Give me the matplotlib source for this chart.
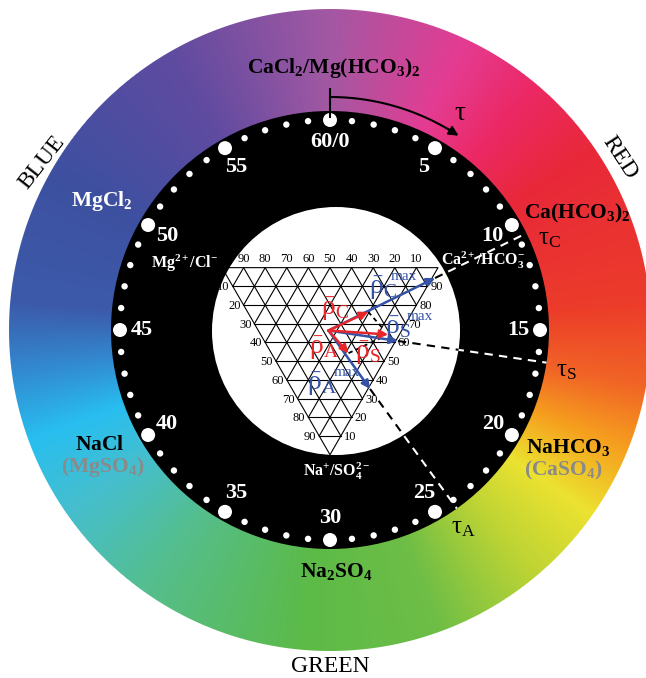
import numpy as np
import matplotlib
matplotlib.use("Agg")
import matplotlib.pyplot as plt
from matplotlib.patches import Circle

plt.rcParams['font.family'] = 'Liberation Serif'
plt.rcParams['mathtext.fontset'] = 'custom'
plt.rcParams['mathtext.rm'] = 'Liberation Serif'
plt.rcParams['mathtext.it'] = 'Liberation Serif:italic'
plt.rcParams['mathtext.bf'] = 'Liberation Serif:bold'

# ---- data ----
dial_steps = np.arange(60)                       # tau clock, 60 steps
dial_labels = ['60/0', '5', '10', '15', '20', '25', '30', '35', '40', '45', '50', '55']
tri_ticks = [10, 20, 30, 40, 50, 60, 70, 80, 90]

# end members round the wheel
compounds = [r'$\mathbf{CaCl_2/Mg(HCO_3)_2}$', r'$\mathbf{MgCl_2}$', r'$\mathbf{Ca(HCO_3)_2}$',
             r'$\mathbf{NaHCO_3}$', r'$\mathbf{(CaSO_4)}$', r'$\mathbf{NaCl}$',
             r'$\mathbf{(MgSO_4)}$', r'$\mathbf{Na_2SO_4}$']
ions = [r'$\mathbf{Mg^{2+}/Cl^{-}}$', r'$\mathbf{Ca^{2+}/HCO_3^{-}}$', r'$\mathbf{Na^{+}/SO_4^{2-}}$']
colour_names = ['BLUE', 'RED', 'GREEN']

# mean vectors: tau position (clock units) and length (fraction of triangle side)
rho_keys = ['C', 'S', 'A']
rho_max_tau = [10.63, 16.43, 24.1]
rho_max_len = [0.55, 0.325, 0.332]
rho_mean_tau = {'C': 10.8, 'A': 23.1}
rho_mean_len = {'C': 0.203, 'A': 0.14}

# hue wheel stops (deg clockwise from top -> rgb)
wheel_deg = [0, 25, 40, 55, 85, 100, 112, 125, 140, 160, 185, 215, 235, 250, 262, 275, 300, 330, 360]
wheel_rgb = np.array([
    (163, 88, 163), (228, 60, 146), (236, 40, 100), (232, 40, 58), (236, 60, 42),
    (241, 100, 38), (246, 160, 30), (236, 226, 48), (190, 212, 52), (110, 190, 70),
    (92, 186, 72), (85, 190, 140), (70, 190, 205), (40, 190, 240), (50, 140, 210),
    (60, 90, 170), (62, 80, 160), (95, 75, 160), (163, 88, 163)], dtype=float)

# ---- layout ----
W, H = 646, 678
CX, CY = 330, 330
R_OUT, R_BLACK, R_DOT, R_LAB = 321, 219, 210, 188
SIDE = 216
BLUE_C, RED_C = '#3553a6', '#e8262a'


def polar(theta_deg, r, cx=CX, cy=CY):
    t = np.radians(theta_deg)
    return cx + r * np.sin(t), cy - r * np.cos(t)


fig = plt.figure(figsize=(W / 100, H / 100), dpi=100)
ax = fig.add_axes([0, 0, 1, 1])

# colour ring
yy, xx = np.mgrid[0:H, 0:W] + 0.5
rr = np.hypot(xx - CX, yy - CY)
ang = np.degrees(np.arctan2(xx - CX, -(yy - CY))) % 360
rgb = np.dstack([np.interp(ang, wheel_deg, wheel_rgb[:, k]) for k in range(3)]) / 255
alpha = np.clip(R_OUT - rr + 0.5, 0, 1)
ax.imshow(np.dstack([rgb, alpha]), extent=(0, W, H, 0), interpolation='bilinear', zorder=0)

ax.add_patch(Circle((CX, CY), R_BLACK, fc='black', ec='none', zorder=1))
white = Circle((CX + 6, CY + 1), 124, fc='white', ec='none', zorder=2)
ax.add_patch(white)

# dial dots and numbers
for s in dial_steps:
    x, y = polar(s * 6, R_DOT)
    ax.add_patch(Circle((x, y), 7 if s % 5 == 0 else 3.2, fc='white', ec='none', zorder=3))
for i, lab in enumerate(dial_labels):
    x, y = polar(i * 30, R_LAB)
    ax.text(x, y, lab, color='white', fontsize=16, fontweight='bold',
            ha='center', va='center', zorder=6)

# tau arrow at the top
ax.plot(*zip(polar(0, 213), polar(0, 241)), color='black', lw=1.5, zorder=4)
th = np.linspace(0, 31, 50)
ax.plot(*polar(th, 233), color='black', lw=1.5, zorder=4)
ax.annotate('', xy=polar(33.5, 233), xytext=polar(30.5, 233),
            arrowprops=dict(arrowstyle='-|>', color='black', lw=1.5,
                            mutation_scale=14, shrinkA=0, shrinkB=0), zorder=4)
ax.text(460, 114, r'$\mathrm{\tau}$', fontsize=20, ha='center', va='center')

# ternary grid
top = CY - SIDE * np.sqrt(3) / 6
TL = np.array([CX - SIDE / 2, top])
TR = np.array([CX + SIDE / 2, top])
B = np.array([CX, top + SIDE * np.sqrt(3) / 2])
tri_kw = dict(color='black', lw=0.8, zorder=3)
ax.plot([TL[0], TR[0], B[0], TL[0]], [TL[1], TR[1], B[1], TL[1]], **tri_kw)
for i in range(1, 10):
    f = i / 10
    L = TL + (B - TL) * f
    R = TR + (B - TR) * f
    T = TL + (TR - TL) * f
    ax.plot([L[0], R[0]], [L[1], R[1]], **tri_kw)
    e1 = TR + (B - TR) * (1 - f)
    ax.plot([T[0], e1[0]], [T[1], e1[1]], **tri_kw)
    e2 = TL + (B - TL) * f
    ax.plot([T[0], e2[0]], [T[1], e2[1]], **tri_kw)
for i, v in enumerate(tri_ticks, start=1):
    f = i / 10
    T = TL + (TR - TL) * f
    ax.text(T[0], T[1] - 9, str(tri_ticks[-i]), fontsize=9, ha='center', va='center', zorder=6)
    L = TL + (B - TL) * f
    ax.text(L[0] - 3, L[1] + 1, str(v), fontsize=9, ha='right', va='center', zorder=6)
    R = TR + (B - TR) * f
    ax.text(R[0] + 3, R[1] + 1, str(tri_ticks[-i]), fontsize=9, ha='left', va='center', zorder=6)

# vectors from the centre
O = np.array([CX - 1.5, CY + 0.5])


def vec(tau, length):
    t = np.radians(tau * 6)
    return np.array([np.sin(t), -np.cos(t)]) * length * SIDE


def arrow(tip, colour):
    ax.annotate('', xy=tip, xytext=O,
                arrowprops=dict(arrowstyle='-|>', color=colour, lw=1.8,
                                mutation_scale=12, shrinkA=0, shrinkB=0), zorder=5)


for k, tau, ln in zip(rho_keys, rho_max_tau, rho_max_len):
    tip = O + vec(tau, ln)
    arrow(tip, BLUE_C)
    end = np.array(polar(tau * 6, R_BLACK))
    ax.plot([tip[0], end[0]], [tip[1], end[1]], color='white', lw=1.5, dashes=(4, 3), zorder=4)
    ln_b, = ax.plot([tip[0], end[0]], [tip[1], end[1]], color='black', lw=1.5, dashes=(4, 3), zorder=4)
    ln_b.set_clip_path(white)

vC = vec(rho_mean_tau['C'], rho_mean_len['C'])
vA = vec(rho_mean_tau['A'], rho_mean_len['A'])
vS = vC + vA
for v in (vC, vA, vS):
    arrow(O + v, RED_C)
for a, b in ((vC, vS), (vA, vS)):
    p, q = O + a, O + a + (b - a) * 0.8
    ax.plot([p[0], q[0]], [p[1], q[1]], color='black', lw=1.3, dashes=(2.5, 2), zorder=4)

# vector labels
rho_fs = 20
ax.text(335, 309, r'$\bar{\mathrm{\rho}}_{\mathrm{C}}$', color=RED_C, fontsize=rho_fs, ha='center', va='center', zorder=6)
ax.text(324, 348, r'$\bar{\mathrm{\rho}}_{\mathrm{A}}$', color=RED_C, fontsize=rho_fs, ha='center', va='center', zorder=6)
ax.text(368, 353, r'$\bar{\mathrm{\rho}}_{\mathrm{S}}$', color=RED_C, fontsize=rho_fs, ha='center', va='center', zorder=6)
ax.text(383, 288, r'$\bar{\mathrm{\rho}}_{\mathrm{C}}$', color=BLUE_C, fontsize=rho_fs, ha='center', va='center', zorder=6)
ax.text(404, 276, 'max', color=BLUE_C, fontsize=11, ha='center', va='center', zorder=6)
ax.text(398, 328, r'$\bar{\mathrm{\rho}}_{\mathrm{S}}$', color=BLUE_C, fontsize=rho_fs, ha='center', va='center', zorder=6)
ax.text(420, 317, 'max', color=BLUE_C, fontsize=11, ha='center', va='center', zorder=6)
ax.text(322, 384, r'$\bar{\mathrm{\rho}}_{\mathrm{A}}$', color=BLUE_C, fontsize=rho_fs, ha='center', va='center', zorder=6)
ax.text(347, 372, 'max', color=BLUE_C, fontsize=11, ha='center', va='center', zorder=6)

# tau labels
for lab, (x, y) in zip([r'$\mathrm{\tau_C}$', r'$\mathrm{\tau_S}$', r'$\mathrm{\tau_A}$'],
                       [(549, 239), (566, 371), (463, 528)]):
    ax.text(x, y, lab, fontsize=18, ha='center', va='center', zorder=6)

# compound labels
comp_xy = [(334, 68), (102, 201), (577, 213), (568, 447), (563, 470), (100, 446), (103, 467), (336, 572)]
comp_col = ['black', 'white', 'black', 'black', '#8a8a8a', 'black', '#8a8a8a', 'black']
for lab, (x, y), c in zip(compounds, comp_xy, comp_col):
    ax.text(x, y, lab, color=c, fontsize=15.5, ha='center', va='center', zorder=6)

for lab, (x, y) in zip(ions, [(185, 263), (483, 260), (337, 471)]):
    ax.text(x, y, lab, color='white', fontsize=11.5, ha='center', va='center', zorder=6)

for lab, (x, y), rot in zip(colour_names, [(42, 162), (620, 158), (330, 667)], [52, -57, 0]):
    ax.text(x, y, lab, fontsize=17, ha='center', va='center', rotation=rot, zorder=6)

ax.set_xlim(0, W)
ax.set_ylim(H, 0)
ax.set_aspect('auto')
ax.axis('off')
fig.savefig('out.png', dpi=100)
